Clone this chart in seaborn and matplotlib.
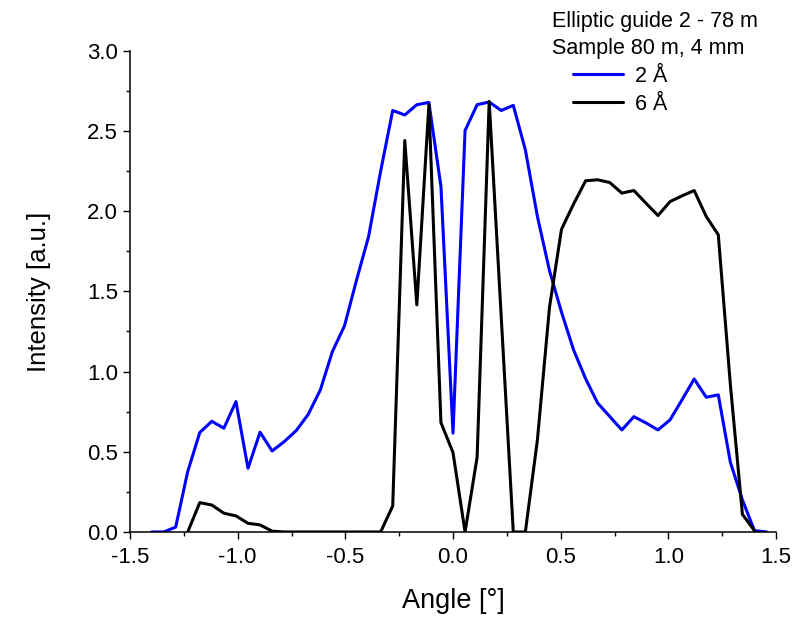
import matplotlib.pyplot as plt
from matplotlib.ticker import MultipleLocator
import numpy as np
import pandas as pd
import seaborn as sns

# angle grid [deg]
angle = [-1.400, -1.344, -1.288, -1.232, -1.176, -1.120, -1.064, -1.008, -0.952, -0.896,
         -0.840, -0.784, -0.728, -0.672, -0.616, -0.560, -0.504, -0.448, -0.392, -0.336,
         -0.280, -0.224, -0.168, -0.112, -0.056, 0.000, 0.056, 0.112, 0.168, 0.224,
         0.280, 0.336, 0.392, 0.448, 0.504, 0.560, 0.616, 0.672, 0.728, 0.784,
         0.840, 0.896, 0.952, 1.008, 1.064, 1.120, 1.176, 1.232, 1.288, 1.344,
         1.400, 1.456]

intensity_2a = [0.0, 0.0, 0.03, 0.376, 0.62, 0.69, 0.647, 0.813, 0.397, 0.622,
                0.505, 0.563, 0.632, 0.734, 0.886, 1.125, 1.285, 1.57, 1.842, 2.25,
                2.628, 2.60, 2.664, 2.678, 2.154, 0.616, 2.503, 2.664, 2.681, 2.628,
                2.66, 2.383, 1.967, 1.63, 1.37, 1.135, 0.955, 0.803, 0.72, 0.636,
                0.719, 0.68, 0.636, 0.699, 0.825, 0.954, 0.840, 0.855, 0.435, 0.20,
                0.008, 0.0]

intensity_6a = [np.nan, np.nan, np.nan, 0.0, 0.183, 0.168, 0.117, 0.10, 0.054, 0.044,
                0.005, 0.0, 0.0, 0.0, 0.0, 0.0, 0.0, 0.0, 0.0, 0.0,
                0.162, 2.441, 1.416, 2.664, 0.682, 0.495, 0.0, 0.466, 2.684, 1.34,
                0.0, 0.0, 0.574, 1.40, 1.888, 2.045, 2.19, 2.196, 2.179, 2.113,
                2.129, 2.05, 1.973, 2.06, 2.096, 2.129, 1.967, 1.853, 0.92, 0.11,
                0.008, np.nan]

labels = ["2 Å", "6 Å"]
colors = {"2 Å": "#0000ff", "6 Å": "#000000"}

df = pd.DataFrame({
    "Angle": angle * 2,
    "Intensity": intensity_2a + intensity_6a,
    "Wavelength": [labels[0]] * len(angle) + [labels[1]] * len(angle),
}).dropna()

sns.set_style("ticks")
plt.rcParams["font.family"] = ["Liberation Sans", "DejaVu Sans"]
plt.rcParams["text.color"] = "black"
plt.rcParams["axes.labelcolor"] = "black"

fig = plt.figure(figsize=(8, 6.2), dpi=100)
ax = fig.add_axes([0.1625, 0.142, 0.8075, 0.776])

sns.lineplot(data=df, x="Angle", y="Intensity", hue="Wavelength", palette=colors,
             estimator=None, sort=False, linewidth=2.2, ax=ax)

ax.set_xlim(-1.5, 1.5)
ax.set_ylim(0, 3.0)
ax.xaxis.set_major_locator(MultipleLocator(0.5))
ax.xaxis.set_minor_locator(MultipleLocator(0.25))
ax.yaxis.set_major_locator(MultipleLocator(0.5))
ax.yaxis.set_minor_locator(MultipleLocator(0.25))
ax.xaxis.set_major_formatter(lambda v, p: f"{v:.1f}")
ax.yaxis.set_major_formatter(lambda v, p: f"{v:.1f}")
ax.tick_params(which="major", length=5, width=1, direction="out", labelsize=16, colors="black")
ax.tick_params(axis="x", which="major", pad=6)
ax.tick_params(axis="y", which="major", pad=3.5)
ax.tick_params(which="minor", length=3, width=1, direction="out", colors="black")
sns.despine(ax=ax)
for s in ("left", "bottom"):
    ax.spines[s].set_linewidth(1.1)
    ax.spines[s].set_color("black")

ax.set_xlabel("Angle [°]", fontsize=19.5, labelpad=14)
ax.set_ylabel("Intensity [a.u.]", fontsize=18.5, labelpad=26)

fig.text(552 / 800, 1 - 27 / 620, "Elliptic guide 2 - 78 m", fontsize=15.5, ha="left", va="baseline")
fig.text(552 / 800, 1 - 54 / 620, "Sample 80 m, 4 mm", fontsize=15.5, ha="left", va="baseline")
ax.legend(frameon=False, loc="upper left", bbox_to_anchor=(573 / 800, 1 - 66 / 620),
          bbox_transform=fig.transFigure, fontsize=15.5, handlelength=2.3,
          handletextpad=0.6, labelspacing=0.32, borderpad=0, borderaxespad=0)

fig.savefig("out.png", dpi=100)
